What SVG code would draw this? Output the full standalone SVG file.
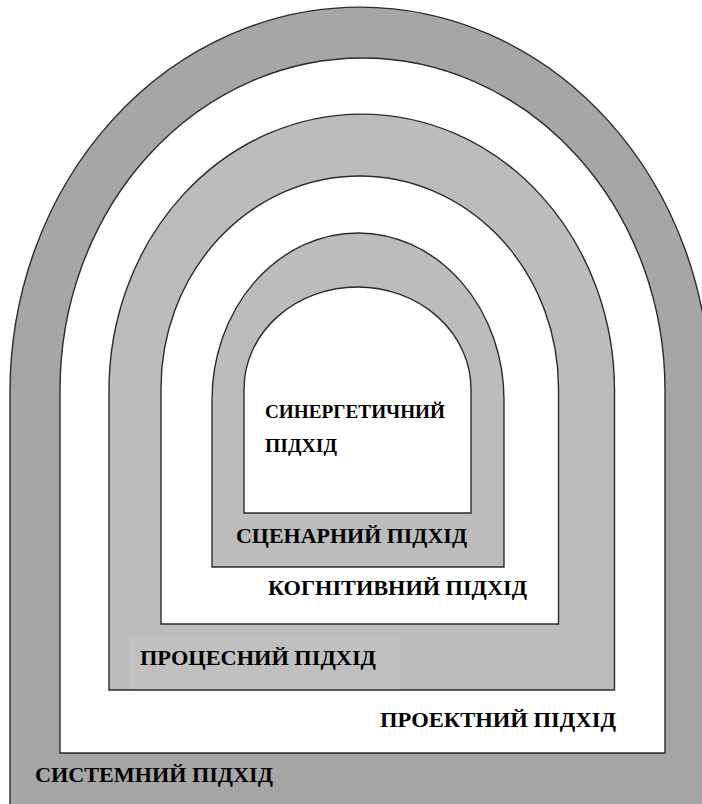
<svg xmlns="http://www.w3.org/2000/svg" width="702" height="804" viewBox="0 0 702 804">
<style>
.band{stroke:#2b2b2b;stroke-width:1.4}
.dark{fill:#a6a6a6}
.light{fill:#bcbcbc}
.white{fill:#ffffff}
.lbl{font-weight:bold;font-size:22px;fill:#000}
.sm{font-size:18px}
</style>
<rect width="702" height="804" fill="#ffffff"/>
<g font-family="Liberation Serif, Times New Roman, serif">
<g id="systemnyi">
<path class="band dark" d="M10,812 L10,392 A350,385 0 0 1 710,392 L710,812 Z"/>
<text class="lbl" x="35" y="782" textLength="238" lengthAdjust="spacingAndGlyphs">СИСТЕМНИЙ ПІДХІД</text>
</g>
<g id="proektnyi">
<path class="band white" d="M60,753 L60,390 A302.5,332 0 0 1 665,390 L665,753 Z"/>
<text class="lbl" x="380" y="727" textLength="236" lengthAdjust="spacingAndGlyphs">ПРОЕКТНИЙ ПІДХІД</text>
</g>
<g id="protsesnyi">
<path class="band light" d="M109,690 L109,390 A252.75,276 0 0 1 614.5,390 L614.5,690 Z"/>
<rect x="130" y="636" width="270" height="53" fill="#c0c0c0"/>
<text class="lbl" x="140" y="665" textLength="236" lengthAdjust="spacingAndGlyphs">ПРОЦЕСНИЙ ПІДХІД</text>
</g>
<g id="kohnityvnyi">
<path class="band white" d="M161,624 L161,388 A198.75,212 0 0 1 558.5,388 L558.5,624 Z"/>
<text class="lbl" x="268" y="595" textLength="259" lengthAdjust="spacingAndGlyphs">КОГНІТИВНИЙ ПІДХІД</text>
</g>
<g id="stsenarnyi">
<path class="band light" d="M212,567 L212,400 A146,167 0 0 1 504,400 L504,567 Z"/>
<text class="lbl" x="236" y="543" textLength="231" lengthAdjust="spacingAndGlyphs">СЦЕНАРНИЙ ПІДХІД</text>
</g>
<g id="synerhetychnyi">
<path class="band white" d="M244,513 L244,389 A113.5,102 0 0 1 471,389 L471,513 Z"/>
<text class="lbl sm" x="265" y="418" textLength="180" lengthAdjust="spacingAndGlyphs">СИНЕРГЕТИЧНИЙ</text>
<text class="lbl sm" x="265" y="452" textLength="72" lengthAdjust="spacingAndGlyphs">ПІДХІД</text>
</g>
</g>
</svg>
